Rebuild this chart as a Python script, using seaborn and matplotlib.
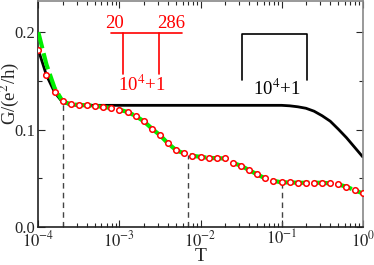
import numpy as np
import pandas as pd
import matplotlib
matplotlib.use('Agg')
import matplotlib.pyplot as plt
import seaborn as sns

# temperatures: 41 points, 10 per decade from 1e-4 to 1
T = [10 ** (-4 + 0.1 * k) for k in range(41)]

# red circles (k = 0..40)
G_circles = [0.182, 0.156, 0.1385, 0.1295, 0.1261, 0.1254, 0.125, 0.1244, 0.1233, 0.1223,
             0.1205, 0.1182, 0.1141, 0.1087, 0.1012, 0.0944, 0.0859, 0.079, 0.0756, 0.0732,
             0.0722, 0.0711, 0.0708, 0.0705, 0.066, 0.063, 0.0585, 0.0541, 0.050, 0.0476,
             0.046, 0.046, 0.0456, 0.0456, 0.0456, 0.0456, 0.0449, 0.0439, 0.0415, 0.038,
             0.0347]

# green dashed curve: same grid, different start
G_green = [0.200, 0.167, 0.143, 0.129] + G_circles[4:]

# black solid curve
G_black = [0.182, 0.156, 0.1385, 0.128, 0.1255] + [0.125] * 26 + \
          [0.1245, 0.1235, 0.122, 0.119, 0.1143, 0.1087, 0.1005, 0.0918, 0.082, 0.0722]

# dashed markers
vline_T = [2e-4, 7e-3, 0.1]
vline_G = [0.128, 0.0745, 0.046]

sns.set_style('ticks')
plt.rcParams['font.family'] = ['Liberation Serif', 'DejaVu Serif']
plt.rcParams['mathtext.fontset'] = 'stix'
plt.rcParams['xtick.direction'] = 'in'
plt.rcParams['ytick.direction'] = 'in'

df = pd.DataFrame({'T': T, 'circ': G_circles, 'green': G_green, 'black': G_black})

fig = plt.figure(figsize=(3.74, 2.65), dpi=100)
ax = fig.add_axes([0.1024, 0.1426, 0.8674, 0.8536])

for x, y in zip(vline_T, vline_G):
    ax.plot([x, x], [0, y], color='#444444', lw=1.0, ls=(0, (4, 3)), zorder=1)

sns.lineplot(data=df, x='T', y='black', ax=ax, color='black', lw=2.0, zorder=2)
sns.lineplot(data=df, x='T', y='green', ax=ax, color='#00ee00', lw=3.0, zorder=3,
             dashes=False, linestyle=(0, (4, 1.2)))
sns.scatterplot(data=df, x='T', y='circ', ax=ax, marker='o', s=16, facecolor='white',
                edgecolor='#ff0000', linewidth=1.1, zorder=4)

ax.set_xscale('log')
ax.set_xlim(1e-4, 1)
ax.set_ylim(0, 0.232)
ax.set_yticks([0, 0.1, 0.2])
ax.set_yticklabels(['0.0', '0.1', '0.2'])
ax.set_yticks([0.05, 0.15], minor=True)
ax.set_xticks([1e-4, 1e-3, 1e-2, 1e-1, 1])
ax.set_xticklabels([r'$10^{-4}$', r'$10^{-3}$', r'$10^{-2}$', r'$10^{-1}$', r'$10^{0}$'])
ax.tick_params(which='both', top=True, right=True, labelsize=12, pad=2)
ax.tick_params(which='major', length=5, width=0.8)
ax.tick_params(which='minor', length=3, width=0.8)
ax.set_xlabel('T', fontsize=14, labelpad=-1.5)
ax.set_ylabel(r'G/(e$^2$/h)', fontsize=13.5)
ax.yaxis.set_label_coords(-0.052, 0.593)
for s in ['top', 'right']:
    ax.spines[s].set_color('#888888')
for s in ['left', 'bottom']:
    ax.spines[s].set_color('#222222')
for s in ax.spines.values():
    s.set_linewidth(1.2)

# red bracket
red = '#ff0000'
ax.plot([7.8e-4, 5.86e-3], [0.199, 0.199], color=red, lw=1.2)
ax.plot([1.1e-3, 1.1e-3], [0.199, 0.1575], color=red, lw=1.2)
ax.plot([3.1e-3, 3.1e-3], [0.199, 0.1575], color=red, lw=1.2)
ax.text(8.8e-4, 0.209, '20', color=red, fontsize=13.5, ha='center', va='center')
ax.text(4.4e-3, 0.209, '286', color=red, fontsize=13.5, ha='center', va='center')
ax.text(1.9e-3, 0.146, r'10$^4$+1', color=red, fontsize=13.5, ha='center', va='center')

# black bracket
ax.plot([0.0322, 0.0322, 0.2075, 0.2075], [0.1507, 0.1985, 0.1985, 0.1507], color='black', lw=1.2)
ax.text(0.087, 0.142, r'10$^4$+1', color='black', fontsize=13.5, ha='center', va='center')

fig.savefig('out.png', dpi=100)
